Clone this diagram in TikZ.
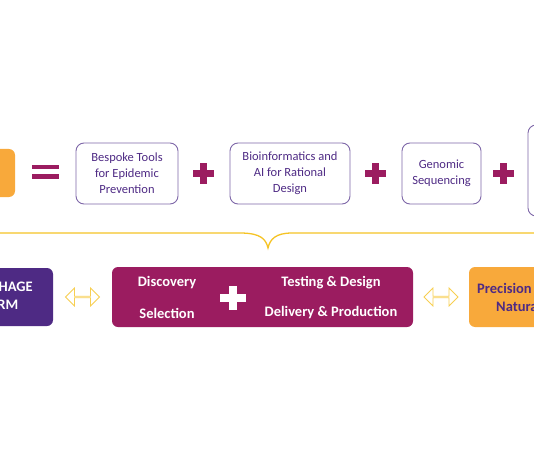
\documentclass[tikz,border=0pt]{standalone}
\usepackage{fontspec}
\setmainfont{Carlito}
\usetikzlibrary{calc, shapes.arrows}

\definecolor{plum}{HTML}{4E2A84}
\definecolor{berry}{HTML}{9B1C60}
\definecolor{amber}{HTML}{F8A93B}
\definecolor{gold}{HTML}{F5C325}
\definecolor{lilac}{HTML}{7E67A8}

\tikzset{
  toolbox/.style={draw=lilac, line width=0.9pt, rounded corners=8pt,
    text=plum, align=center, inner sep=0pt,
    font=\fontsize{12.5}{16}\selectfont},
  blockbox/.style={rounded corners=6pt, inner sep=0pt},
  boldtext/.style={font=\bfseries\fontsize{14.5}{17}\selectfont, inner sep=0pt},
  swaparrow/.style={double arrow, draw=gold!80, fill=white, line width=0.8pt,
    minimum height=34pt, minimum width=18pt, inner sep=0pt,
    double arrow head extend=5pt}
}

\begin{document}
\begin{tikzpicture}[x=1pt, y=-1pt]
  \useasboundingbox (0,0) rectangle (534,462);
  \clip (0,0) rectangle (534,462);
  % --- Top row: orange box = tools + tools + tools + ... ---
  \node[blockbox, fill=amber, minimum width=75pt, minimum height=48pt]
    (start) at (-22.5,173) {};
  \fill[berry] (32,165) rectangle (59,169.5);
  \fill[berry] (32,174.5) rectangle (59,179);
  \node[toolbox, minimum width=102pt, minimum height=61pt] (tools)
    at (127,173.5) {Bespoke Tools\\for Epidemic\\Prevention};
  \node[toolbox, minimum width=120pt, minimum height=61pt] (bioinfo)
    at (290,173.5) {Bioinformatics and\\AI for Rational\\Design};
  \node[toolbox, minimum width=79pt, minimum height=61pt] (genomic)
    at (441.5,173.5) {Genomic\\Sequencing};
  \node[toolbox, minimum width=120pt, minimum height=91pt] (extra)
    at (588,170.5) {};
  % Plus signs between the boxes.
  \foreach \x in {203.5,375.5,503.5} {
    \fill[berry] (\x-10.5,170) rectangle (\x+10.5,177);
    \fill[berry] (\x-3.5,163) rectangle (\x+3.5,184);
  }
  % --- Brace over the bottom row ---
  \coordinate (tip) at (268,248);
  \draw[gold, line width=1.3pt] (0,233) -- (240,233)
    .. controls (262,233) and (266,240) .. (tip)
    .. controls (270,239) and (276,233) .. (292,233) -- (534,233);
  % --- Bottom row: platform <-> core steps <-> precision ---
  \node[blockbox, fill=plum, minimum width=113pt, minimum height=58pt]
    (platform) at (-3.5,297) {};
  \node[boldtext, text=white, anchor=east] at (33,287) {HAGE};
  \node[boldtext, text=white, anchor=east] at (18.5,305) {RM};
  \node[blockbox, fill=berry, minimum width=301pt, minimum height=60pt]
    (core) at (262.5,297) {};
  \node[boldtext, text=white] (disc) at (167,283) {Discovery};
  \node[boldtext, text=white] (sel) at (167,313) {Selection};
  \node[boldtext, text=white] (test) at (331,283) {Testing \& Design};
  \node[boldtext, text=white] (deliv) at (331,313) {Delivery \& Production};
  \fill[white] (220,294) rectangle (246,302);
  \fill[white] (229,286) rectangle (237,310);
  \node[blockbox, fill=amber, minimum width=131pt, minimum height=60pt]
    (precision) at (534.5,297) {};
  \node[boldtext, text=plum, anchor=west] at (477,288) {Precision};
  \node[boldtext, text=plum, anchor=west] at (496,307) {Natura};
  % Two-way arrows between the blocks.
  \node[swaparrow] (left) at ($(platform.east)!0.5!(core.west)$) {};
  \node[swaparrow] (right) at ($(core.east)!0.5!(precision.west)$) {};
\end{tikzpicture}
\end{document}
